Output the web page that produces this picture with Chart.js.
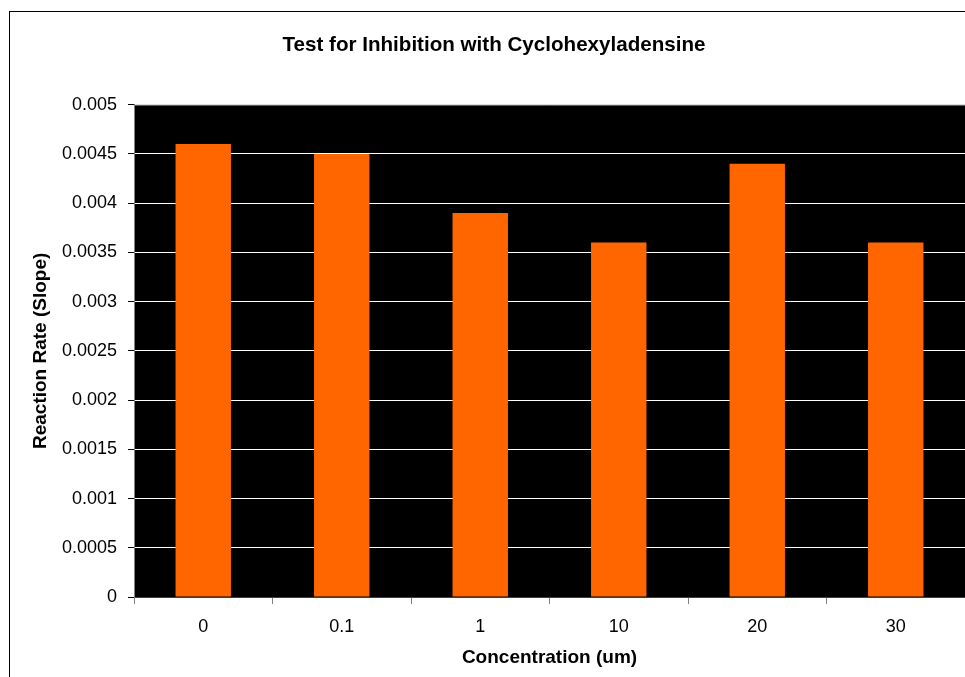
<!DOCTYPE html>
<html>
<head>
<meta charset="utf-8">
<script src="https://cdn.jsdelivr.net/npm/chart.js@4/dist/chart.umd.min.js"></script>
<style>
  body { margin: 0; background: #fff; overflow: hidden; }
</style>
</head>
<body>
<canvas id="rate_chart" width="965" height="677"></canvas>
<script>
const concentrations = ["0", "0.1", "1", "10", "20", "30"]
const reaction_rates = [0.0046, 0.0045, 0.0039, 0.0036, 0.0044, 0.0036]
const chart_title = "Test for Inhibition with Cyclohexyladensine"
const x_title = "Concentration (um)"
const y_title = "Reaction Rate (Slope)"

const font_family = "'Liberation Sans', Arial, sans-serif"

// black plot area + outer chart border like the old excel export
const excelLook = {
  id: "excelLook",
  beforeDraw(chart) {
    const ctx = chart.ctx
    const a = chart.chartArea
    ctx.save()
    ctx.fillStyle = "#000"
    ctx.fillRect(a.left, a.top, a.right - a.left, a.bottom - a.top)
    ctx.strokeStyle = "#000"
    ctx.lineWidth = 1
    ctx.strokeRect(9.5, 11.5, 2000, 2000)
    ctx.restore()
  },
  afterDraw(chart) {
    const ctx = chart.ctx
    const a = chart.chartArea
    ctx.save()
    ctx.strokeStyle = "#808080"
    ctx.lineWidth = 1
    ctx.beginPath()
    ctx.moveTo(a.left, a.top + 0.5)
    ctx.lineTo(a.right, a.top + 0.5)
    ctx.stroke()
    ctx.restore()
  }
}

function make_chart(){
  const node = document.getElementById("rate_chart").getContext("2d")

  return new Chart(node, {
    type: "bar",
    data: {
      labels: concentrations,
      datasets: [{
        data: reaction_rates,
        backgroundColor: "#FF6600",
        borderWidth: 0,
        barPercentage: 0.4,
        categoryPercentage: 1.0
      }]
    },
    options: {
      responsive: false,
      animation: false,
      layout: { padding: { left: 23, right: 0, top: 0, bottom: 0 } },
      plugins: {
        legend: { display: false },
        tooltip: { enabled: false },
        title: {
          display: true,
          text: chart_title,
          color: "#000",
          font: { family: font_family, size: 20.6, weight: "bold" },
          padding: { top: 33, bottom: 47 }
        }
      },
      scales: {
        x: {
          offset: true,
          afterFit: (scale) => { scale.height = 80 },
          border: { color: "#404040", width: 1 },
          grid: { offset: true, drawOnChartArea: false, tickLength: 7, tickColor: "#808080" },
          ticks: { color: "#000", padding: 12, font: { family: font_family, size: 18 } },
          title: {
            display: true,
            text: x_title,
            color: "#000",
            font: { family: font_family, size: 19, weight: "bold" },
            padding: { top: 0, bottom: 8 }
          }
        },
        y: {
          min: 0,
          max: 0.005,
          afterFit: (scale) => { scale.width = 111 },
          border: { color: "#808080", width: 1 },
          grid: { color: "#fff", tickColor: "#000", tickLength: 6 },
          ticks: {
            stepSize: 0.0005,
            color: "#000",
            padding: 11,
            font: { family: font_family, size: 18 },
            callback: (value) => parseFloat(value.toFixed(4)).toString()
          },
          title: {
            display: true,
            text: y_title,
            color: "#000",
            font: { family: font_family, size: 19, weight: "bold" },
            padding: { top: 6, bottom: 0 }
          }
        }
      }
    },
    plugins: [excelLook]
  })
}

make_chart()
</script>
</body>
</html>
